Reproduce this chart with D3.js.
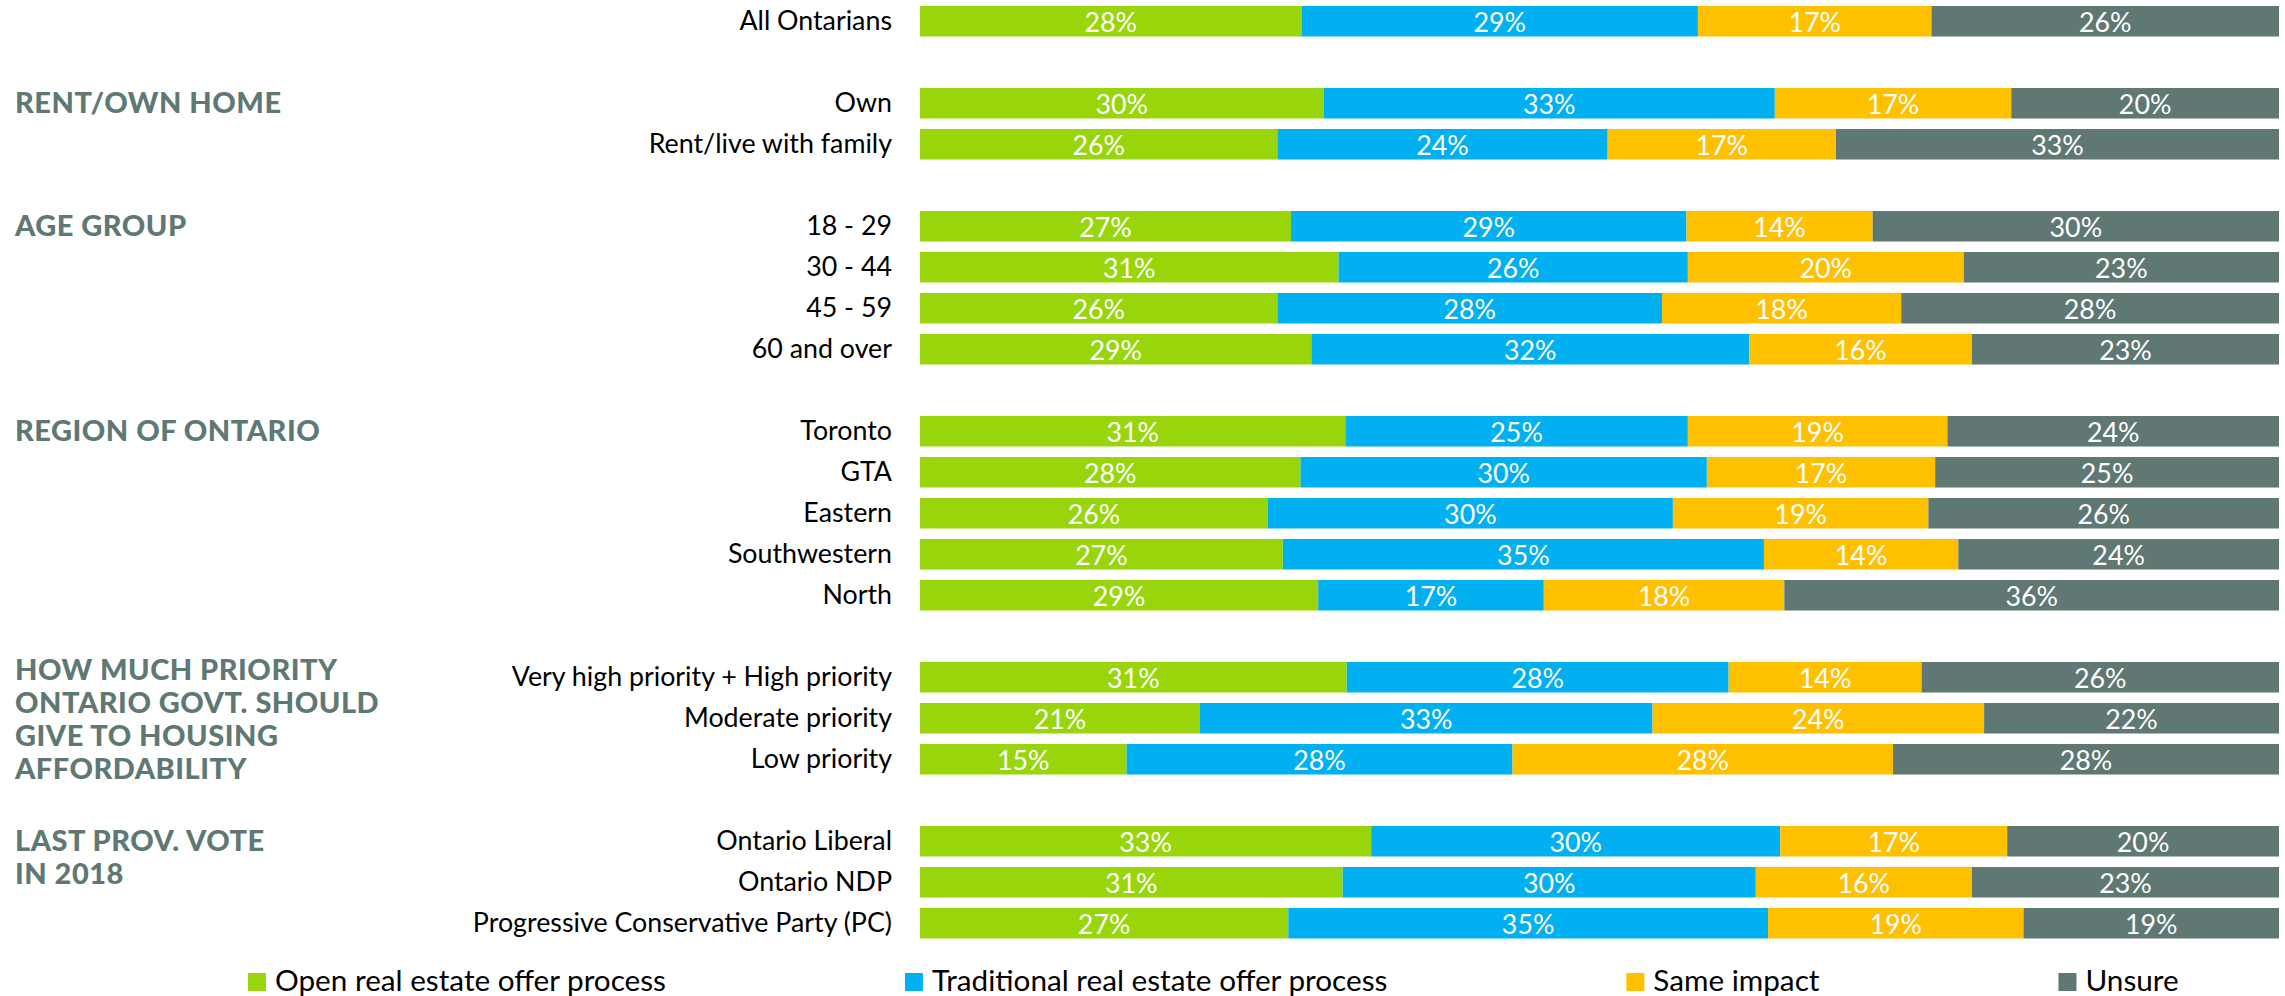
<!DOCTYPE html>
<html>
<head>
<meta charset="utf-8">
<script src="https://cdn.jsdelivr.net/npm/d3@7"></script>
<style>
  html, body { margin: 0; padding: 0; background: #ffffff; }
  svg { display: block; }
</style>
</head>
<body>
<svg id="chart" width="2285" height="996"></svg>
<script>
// ---------- DATA ----------
const seriesNames = ["Open real estate offer process", "Traditional real estate offer process", "Same impact", "Unsure"];
const seriesColors = ["#98d60b", "#00b0f0", "#ffc000", "#607873"];

const categories = [
  "All Ontarians",
  "Own", "Rent/live with family",
  "18 - 29", "30 - 44", "45 - 59", "60 and over",
  "Toronto", "GTA", "Eastern", "Southwestern", "North",
  "Very high priority + High priority", "Moderate priority", "Low priority",
  "Ontario Liberal", "Ontario NDP", "Progressive Conservative Party (PC)"
];

// shares (%); labels show them rounded
const openProcess        = [28.1, 29.7, 26.3, 27.3, 30.8, 26.3, 28.8, 31.3, 28.0, 25.6, 26.7, 29.3, 31.4, 20.6, 15.2, 33.2, 31.1, 27.1];
const traditionalProcess = [29.2, 33.2, 24.3, 29.1, 25.7, 28.3, 32.2, 25.2, 29.9, 29.8, 35.4, 16.6, 28.1, 33.3, 28.4, 30.1, 30.4, 35.3];
const sameImpact         = [17.2, 17.4, 16.8, 13.7, 20.3, 17.6, 16.4, 19.1, 16.8, 18.8, 14.3, 17.7, 14.2, 24.4, 28.0, 16.7, 15.9, 18.8];
const unsure             = [25.6, 19.7, 32.6, 29.9, 23.2, 27.8, 22.6, 24.4, 25.3, 25.8, 23.6, 36.4, 26.3, 21.7, 28.4, 20.0, 22.6, 18.8];

// groups: header lines and the categories they contain
const groupHeaders = [
  [],
  ["RENT/OWN HOME"],
  ["AGE GROUP"],
  ["REGION OF ONTARIO"],
  ["HOW MUCH PRIORITY", "ONTARIO GOVT. SHOULD", "GIVE TO HOUSING", "AFFORDABILITY"],
  ["LAST PROV. VOTE", "IN 2018"]
];
const groupMembers = [
  ["All Ontarians"],
  ["Own", "Rent/live with family"],
  ["18 - 29", "30 - 44", "45 - 59", "60 and over"],
  ["Toronto", "GTA", "Eastern", "Southwestern", "North"],
  ["Very high priority + High priority", "Moderate priority", "Low priority"],
  ["Ontario Liberal", "Ontario NDP", "Progressive Conservative Party (PC)"]
];

// ---------- LAYOUT ----------
const svg = d3.select("#chart");
const barLeft = 920, barRight = 2279;
const FONT = "Lato, 'Open Sans', sans-serif";

// slots: categories with an empty slot between groups
const slots = [];
groupMembers.forEach((g, gi) => {
  if (gi > 0) slots.push("__gap" + gi);
  g.forEach(c => slots.push(c));
});

const y = d3.scaleBand()
  .domain(slots)
  .range([0.75, 0.75 + 41 * slots.length])
  .paddingInner(0.256)
  .paddingOuter(0.128);

const rows = categories.map((c, i) => {
  const vals = [openProcess[i], traditionalProcess[i], sameImpact[i], unsure[i]];
  return { cat: c, vals, total: d3.sum(vals) };
});

const x = d3.scaleLinear().domain([0, 1]).range([barLeft, barRight]);

const rowG = svg.append("g").selectAll("g.row")
  .data(rows).join("g").attr("class", "row");

rowG.each(function(r) {
  const g = d3.select(this);
  let acc = 0;
  const segs = r.vals.map((v, k) => {
    const s = { k, v, x0: acc / r.total, x1: (acc + v) / r.total };
    acc += v;
    return s;
  });
  g.selectAll("rect").data(segs).join("rect")
    .attr("x", d => x(d.x0))
    .attr("width", d => x(d.x1) - x(d.x0))
    .attr("y", y(r.cat))
    .attr("height", y.bandwidth())
    .attr("fill", d => seriesColors[d.k]);
  g.selectAll("text.val").data(segs).join("text")
    .attr("class", "val")
    .attr("x", d => (x(d.x0) + x(d.x1)) / 2)
    .attr("y", y(r.cat) + y.bandwidth() / 2 + 10.5)
    .attr("text-anchor", "middle")
    .attr("font-family", FONT)
    .attr("font-size", 26.8)
    .attr("fill", "#ffffff")
    .text(d => Math.round(d.v) + "%");
  g.append("text")
    .attr("x", barLeft - 28)
    .attr("y", y(r.cat) + y.bandwidth() / 2 + 9)
    .attr("text-anchor", "end")
    .attr("font-family", FONT)
    .attr("font-size", 26.8)
    .attr("fill", "#000000")
    .text(r.cat);
});

// group headers
groupHeaders.forEach((lines, gi) => {
  if (!lines.length) return;
  const members = groupMembers[gi];
  const firstC = y(members[0]) + y.bandwidth() / 2;
  const lastC = y(members[members.length - 1]) + y.bandwidth() / 2;
  const lh = 33.1;
  let firstLine;
  if (lines.length > members.length) {
    firstLine = (firstC + lastC) / 2 - lh * (lines.length - 1) / 2 + 2;
  } else {
    firstLine = firstC;
  }
  const t = svg.append("text")
    .attr("font-family", FONT)
    .attr("font-weight", 900)
    .attr("font-size", 29)
    .attr("letter-spacing", 0.5)
    .attr("fill", "#607873");
  lines.forEach((ln, li) => {
    t.append("tspan")
      .attr("x", 15)
      .attr("y", firstLine + li * lh + 9.5)
      .text(ln);
  });
});

// legend
const legend = svg.append("g");
let lx = 248;
seriesNames.forEach((name, k) => {
  legend.append("rect")
    .attr("x", lx).attr("y", 973)
    .attr("width", 18).attr("height", 18)
    .attr("fill", seriesColors[k]);
  const t = legend.append("text")
    .attr("x", lx + 27).attr("y", 990.5)
    .attr("font-family", FONT)
    .attr("font-size", 29.7)
    .attr("fill", "#000000")
    .text(name);
  lx = lx + 27 + t.node().getComputedTextLength() + 239;
});
</script>
</body>
</html>
